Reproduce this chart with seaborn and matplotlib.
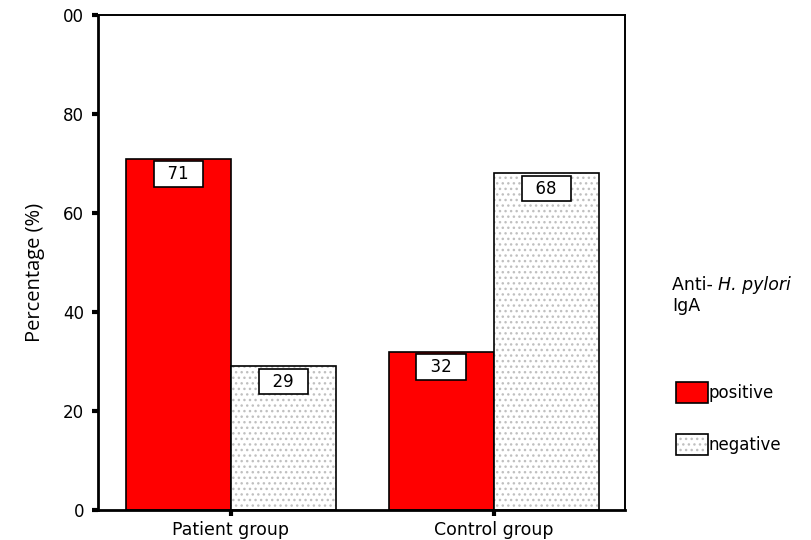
#!/usr/bin/env python3
"""
Bar chart: anti-H. pylori IgA status in patient vs control group.
"""

import numpy as np
import pandas as pd
import matplotlib
matplotlib.use('Agg')
import matplotlib.pyplot as plt
from matplotlib.patches import Patch, Rectangle
from matplotlib.legend_handler import HandlerTuple
import seaborn as sns

# data
groups = ['Patient group', 'Control group']
status = ['positive', 'negative']
positive_pct = [71, 32]
negative_pct = [29, 68]
y_ticks = [0, 20, 40, 60, 80, 100]
y_tick_labels = ['0', '20', '40', '60', '80', '00']

RED = '#ff0000'
DOT_GRAY = '#c0c0c0'

df = pd.DataFrame({
    'group': groups * 2,
    'status': ['positive'] * 2 + ['negative'] * 2,
    'pct': positive_pct + negative_pct,
})

sns.set_style('white')
plt.rcParams['font.family'] = ['DejaVu Sans']
plt.rcParams['text.color'] = 'black'
plt.rcParams['axes.labelcolor'] = 'black'
plt.rcParams['xtick.color'] = 'black'
plt.rcParams['ytick.color'] = 'black'

fig = plt.figure(figsize=(8.11, 5.40), dpi=100)
ax = fig.add_axes([98 / 811, 1 - 510 / 540, 527 / 811, 495 / 540])

sns.barplot(data=df, x='group', y='pct', hue='status', order=groups,
            hue_order=status, palette={'positive': RED, 'negative': 'white'},
            saturation=1, edgecolor='black', linewidth=1.2, width=0.8, gap=0,
            errorbar=None, legend=False, ax=ax)

# dotted fill for the negative bars, outline redrawn on top in black
for cont, name in zip(ax.containers, status):
    for bar, val in zip(cont, cont.datavalues):
        if name == 'negative':
            bar.set_hatch('...')
            bar.set_edgecolor(DOT_GRAY)
            bar.set_linewidth(0)
            ax.add_patch(Rectangle((bar.get_x(), bar.get_y()), bar.get_width(),
                                   bar.get_height(), fill=False,
                                   edgecolor='black', linewidth=1.2, zorder=3))
        cx = bar.get_x() + bar.get_width() / 2
        ax.text(cx, val - 3.1, f'  {int(val)}  ', ha='center', va='center',
                fontsize=12, zorder=5,
                bbox=dict(boxstyle='square,pad=0.22', facecolor='white',
                          edgecolor='black', linewidth=1.2))

ax.set_xlim(-0.506, 1.5)
ax.set_ylim(0, 100)
ax.set_yticks(y_ticks)
ax.set_yticklabels(y_tick_labels)
ax.set_xlabel('')
ax.set_ylabel('Percentage (%)', fontsize=14.5, family=['Open Sans', 'DejaVu Sans'])
ax.yaxis.set_label_coords(-0.1, 0.48)

ax.tick_params(axis='y', direction='out', length=4, width=3,
               labelsize=12, pad=6, left=True)
ax.tick_params(axis='x', direction='out', length=4, width=3,
               labelsize=12.5, pad=4, bottom=True)

for side in ['left', 'bottom']:
    ax.spines[side].set_linewidth(2.0)
for side in ['top', 'right']:
    ax.spines[side].set_linewidth(1.4)
for sp in ax.spines.values():
    sp.set_color('black')
    sp.set_visible(True)

# legend title, with the species name in italics
t1 = fig.text(672 / 811, 1 - 285 / 540, 'Anti- ', fontsize=12.5,
              ha='left', va='center')
ax.annotate('H. pylori', xy=(1, 0), xycoords=t1, ha='left', va='bottom',
            fontsize=12.5, style='italic', annotation_clip=False)
fig.text(672 / 811, 1 - 306 / 540, 'IgA', fontsize=12.5, ha='left', va='center')

handles = [
    Patch(facecolor=RED, edgecolor='black', linewidth=1.2),
    (Patch(facecolor='white', edgecolor=DOT_GRAY, hatch='...', linewidth=0),
     Patch(fill=False, edgecolor='black', linewidth=1.2)),
]
fig.legend(handles, status, loc='upper left',
           bbox_to_anchor=(676 / 811, 1 - 382 / 540), frameon=False,
           fontsize=12, handlelength=1.9, handleheight=1.55, handletextpad=0.05,
           labelspacing=1.86, borderpad=0, borderaxespad=0,
           handler_map={tuple: HandlerTuple(ndivide=1)})

plt.savefig('out.png', dpi=100)
plt.close()
